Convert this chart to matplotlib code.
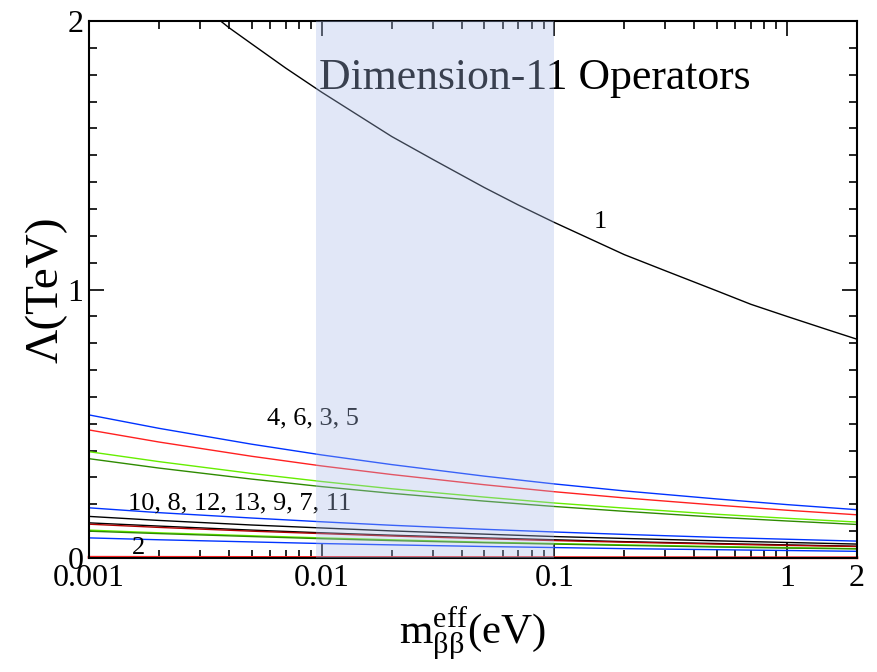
import matplotlib
matplotlib.use('Agg')
import matplotlib.pyplot as plt
from matplotlib.ticker import FixedLocator, NullFormatter, MultipleLocator

plt.rcParams['font.family'] = ['Liberation Serif', 'DejaVu Serif']
plt.rcParams['mathtext.fontset'] = 'custom'
plt.rcParams['mathtext.rm'] = 'Liberation Serif'
plt.rcParams['mathtext.it'] = 'Liberation Serif:italic'

# ---------------- data ----------------
# operator 1 (top curve), read on a finer grid
m_op1 = [0.003, 0.0035, 0.004, 0.005, 0.007, 0.01, 0.02, 0.03, 0.05, 0.07,
         0.1, 0.2, 0.3, 0.5, 0.7, 1, 1.5, 2]
op1 = [2.06, 2.015, 1.975, 1.915, 1.825, 1.735, 1.57, 1.485, 1.38, 1.315,
       1.25, 1.13, 1.07, 0.995, 0.945, 0.90, 0.85, 0.815]

m_eff = [0.001, 0.002, 0.005, 0.01, 0.02, 0.05, 0.1, 0.2, 0.5, 1, 2]

op2 = [0.003, 0.0027, 0.0024, 0.0022, 0.002, 0.0017, 0.0016, 0.0014, 0.0012, 0.0011, 0.001]

# 4, 6, 3, 5
op4 = [0.533, 0.483, 0.424, 0.384, 0.348, 0.305, 0.276, 0.250, 0.220, 0.199, 0.180]
op6 = [0.477, 0.432, 0.379, 0.343, 0.311, 0.273, 0.247, 0.224, 0.197, 0.178, 0.161]
op3 = [0.396, 0.359, 0.315, 0.285, 0.258, 0.227, 0.205, 0.186, 0.163, 0.148, 0.134]
op5 = [0.370, 0.335, 0.294, 0.266, 0.241, 0.212, 0.192, 0.174, 0.152, 0.138, 0.125]

# 10, 8, 12, 13, 9, 7, 11
op10 = [0.187, 0.169, 0.149, 0.135, 0.122, 0.107, 0.097, 0.088, 0.077, 0.070, 0.063]
op8 = [0.155, 0.140, 0.123, 0.112, 0.101, 0.089, 0.080, 0.073, 0.064, 0.058, 0.052]
op12 = [0.131, 0.119, 0.104, 0.094, 0.085, 0.075, 0.068, 0.061, 0.054, 0.049, 0.044]
op13 = [0.126, 0.114, 0.100, 0.091, 0.082, 0.072, 0.065, 0.059, 0.052, 0.047, 0.043]
op9 = [0.104, 0.094, 0.083, 0.075, 0.068, 0.059, 0.054, 0.049, 0.043, 0.039, 0.035]
op7 = [0.100, 0.091, 0.080, 0.072, 0.065, 0.057, 0.052, 0.047, 0.041, 0.037, 0.034]
op11 = [0.075, 0.068, 0.060, 0.054, 0.049, 0.043, 0.039, 0.035, 0.031, 0.028, 0.025]

band = (0.0095, 0.1)
xticks = [0.001, 0.01, 0.1, 1, 2]
xticklabels = ['0.001', '0.01', '0.1', '1', '2']

blue = '#0033ff'
red = '#ff2020'
lgreen = '#66ee00'
dgreen = '#2e8b00'

curves = [
    (op4, blue), (op6, red), (op3, lgreen), (op5, dgreen),
    (op10, blue), (op8, 'black'), (op12, 'black'), (op13, '#b00000'),
    (op9, lgreen), (op7, dgreen), (op11, blue),
]

######################################################################
fig = plt.figure(figsize=(8.78, 6.72), dpi=100)
ax = fig.add_axes([0.1014, 0.1696, 0.8746, 0.7991])

ax.plot(m_op1, op1, color='black', lw=1.0, zorder=2)
for y, c in curves:
    ax.plot(m_eff, y, color=c, lw=1.0, zorder=2)
# curve 2 sits right on the axis
ax.plot(m_eff, op2, color=red, lw=2.0, zorder=2, clip_on=False)

# band drawn over everything, semi transparent
ax.axvspan(band[0], band[1], color=(168/255, 188/255, 232/255), alpha=0.345, lw=0, zorder=5)

ax.text(0.157, 1.25, '1', fontsize=19, ha='center', va='center')
ax.text(0.0058, 0.52, '4, 6, 3, 5', fontsize=19, ha='left', va='center')
ax.text(0.00147, 0.205, '10, 8, 12, 13, 9, 7, 11', fontsize=19, ha='left', va='center')
ax.text(0.00153, 0.037, '2', fontsize=19, ha='left', va='center')
ax.text(0.30, 0.893, 'Dimension-11 Operators', fontsize=31.5, ha='left', va='center',
        transform=ax.transAxes)

ax.set_xscale('log')
ax.set_xlim(0.001, 2)
ax.set_ylim(0, 2)

ax.xaxis.set_major_locator(FixedLocator(xticks))
ax.set_xticklabels(xticklabels)
minors = [k * d for d in (0.001, 0.01, 0.1) for k in range(2, 10)] + [2]
ax.xaxis.set_minor_locator(FixedLocator(minors))
ax.xaxis.set_minor_formatter(NullFormatter())
ax.yaxis.set_major_locator(FixedLocator([0, 1, 2]))
ax.yaxis.set_minor_locator(MultipleLocator(0.1))

ax.tick_params(which='both', direction='in', top=True, right=True, width=1.2)
ax.tick_params(which='major', length=11, labelsize=23, pad=4)
ax.tick_params(which='minor', length=5.5)
for s in ax.spines.values():
    s.set_linewidth(1.5)

ax.set_ylabel('Λ(TeV)', fontsize=34, labelpad=0)
ax.set_xlabel(r'm$_{\mathrm{ββ}}^{\mathrm{eff}}$(eV)', fontsize=31, labelpad=9)

fig.savefig('out.png', dpi=100)
